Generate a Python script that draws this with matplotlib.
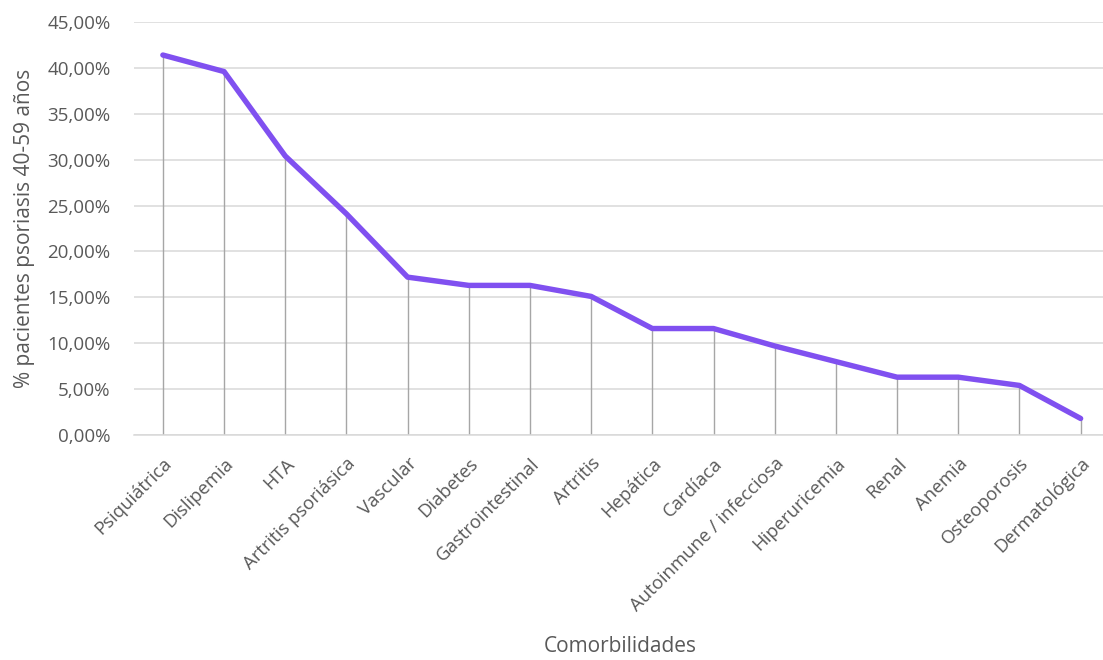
import matplotlib
matplotlib.use("Agg")
import matplotlib.pyplot as plt
from matplotlib.ticker import FuncFormatter, MultipleLocator

categorias = ["Psiquiátrica", "Dislipemia", "HTA", "Artritis psoriásica", "Vascular",
              "Diabetes", "Gastrointestinal", "Artritis", "Hepática", "Cardíaca",
              "Autoinmune / infecciosa", "Hiperuricemia", "Renal", "Anemia",
              "Osteoporosis", "Dermatológica"]
porcentajes = [41.4, 39.6, 30.4, 24.1, 17.2, 16.3, 16.3, 15.1, 11.6, 11.6,
               9.7, 8.0, 6.3, 6.3, 5.4, 1.8]

plt.rcParams["font.family"] = ["Open Sans", "DejaVu Sans"]

W, H = 1103, 660
fig = plt.figure(figsize=(W / 100, H / 100), dpi=100)
left_px, right_px, top_px, bottom_px = 133.5, 1110, 22, 435
ax = fig.add_axes([left_px / W, 1 - bottom_px / H,
                   (right_px - left_px) / W, (bottom_px - top_px) / H])

x = list(range(len(categorias)))
ax.set_xlim(-0.48, len(categorias) - 0.52)
ax.set_ylim(0, 45)

grid_col = "#d9d9d9"
text_col = "#595959"
ax.yaxis.set_major_locator(MultipleLocator(5))
ax.yaxis.set_major_formatter(FuncFormatter(lambda v, p: f"{v:.2f}".replace(".", ",") + "%"))
ax.grid(axis="y", color=grid_col, linewidth=1.1)
ax.set_axisbelow(True)
for s in ["top", "right", "left"]:
    ax.spines[s].set_visible(False)
ax.spines["bottom"].set_color(grid_col)
ax.spines["bottom"].set_linewidth(1.1)

# drop lines from each point to the category axis
ax.vlines(x, 0, porcentajes, color="#a6a6a6", linewidth=1.0, zorder=2)
ax.plot(x, porcentajes, color="#8050f0", linewidth=3.9, solid_joinstyle="round",
        solid_capstyle="round", zorder=3)

ax.tick_params(axis="y", length=0, labelsize=13.5, labelcolor=text_col, pad=16.5)
ax.tick_params(axis="x", length=0, labelsize=13.3, labelcolor=text_col, pad=14)
ax.set_xticks(x)
ax.set_xticklabels(categorias, rotation=45, ha="right", va="top", rotation_mode="anchor")

fig.text(25 / W, 1 - 228 / H, "% pacientes psoriasis 40-59 años", rotation=90,
         ha="center", va="center", fontsize=15, color=text_col)
fig.text(620 / W, 1 - 647 / H, "Comorbilidades", ha="center", va="center",
         fontsize=15, color=text_col)

fig.savefig("out.png", dpi=100, facecolor="white")
